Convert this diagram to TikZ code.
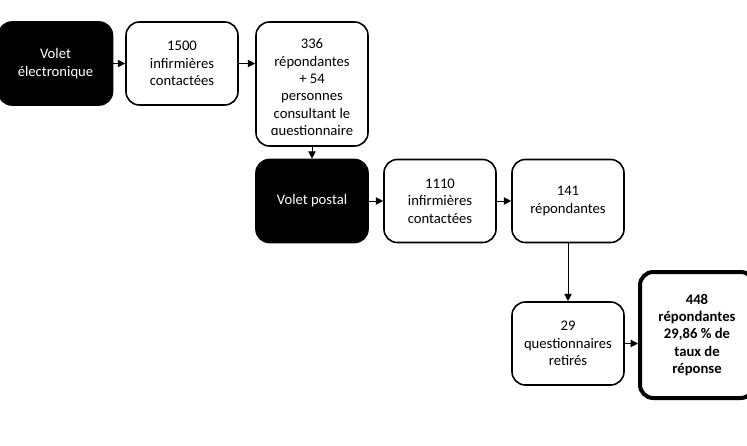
\documentclass[tikz,border=0pt]{standalone}
\usepackage{fontspec}
\setmainfont{Carlito}
\usetikzlibrary{arrows.meta,positioning,calc}

\begin{document}
\begin{tikzpicture}[x=0.75pt,y=-0.75pt,
  font=\fontsize{11}{13}\selectfont,
  box/.style={draw=black,line width=1.2pt,rounded corners=10pt,fill=white,
    minimum width=84pt,minimum height=62.25pt,align=center,inner sep=0pt},
  darkbox/.style={box,fill=black,text=white},
  link/.style={line width=0.7pt,-{Triangle[length=5.5pt,width=5.5pt]}}]
  \useasboundingbox (0,0) rectangle (747,446);
  \node[darkbox,minimum width=85.5pt] (elec) at (55.5,63.5) {Volet\\électronique};
  \node[box] (c1500) at (182,63.5) {1500\\infirmières\\contactées};
  \node[box,minimum height=93pt] (r336) at (312,84) {};
  \begin{scope}
    \clip (256,22) rectangle (368,134);
    \node[anchor=north,align=center,inner sep=0pt] (t336) at (312,38.5)
      {336\\répondantes\\+ 54\\personnes\\consultant le\\questionnaire};
  \end{scope}
  \node[darkbox] (postal) at (312,201) {Volet postal};
  \node[box] (c1110) at (440,201) {1110\\infirmières\\contactées};
  \node[box] (r141) at (568,201) {141\\répondantes};
  \node[box] (ret29) at (568,343.5) {29\\questionnaires\\retirés};
  \node[box,line width=3pt,minimum width=85.5pt,minimum height=94.5pt,
    font=\fontsize{11}{13}\selectfont\bfseries] (total) at (697,335)
    {448\\répondantes\\29,86 \% de\\taux de\\réponse};
  \draw[link] (elec) -- (c1500);
  \draw[link] (c1500.east) -- (c1500.east -| r336.west);
  \draw[link] (r336) -- (postal);
  \draw[link] (postal) -- (c1110);
  \draw[link] (c1110) -- (r141);
  \draw[link] (r141) -- (ret29);
  \draw[link] (ret29.east) -- (ret29.east -| total.west);
\end{tikzpicture}
\end{document}
